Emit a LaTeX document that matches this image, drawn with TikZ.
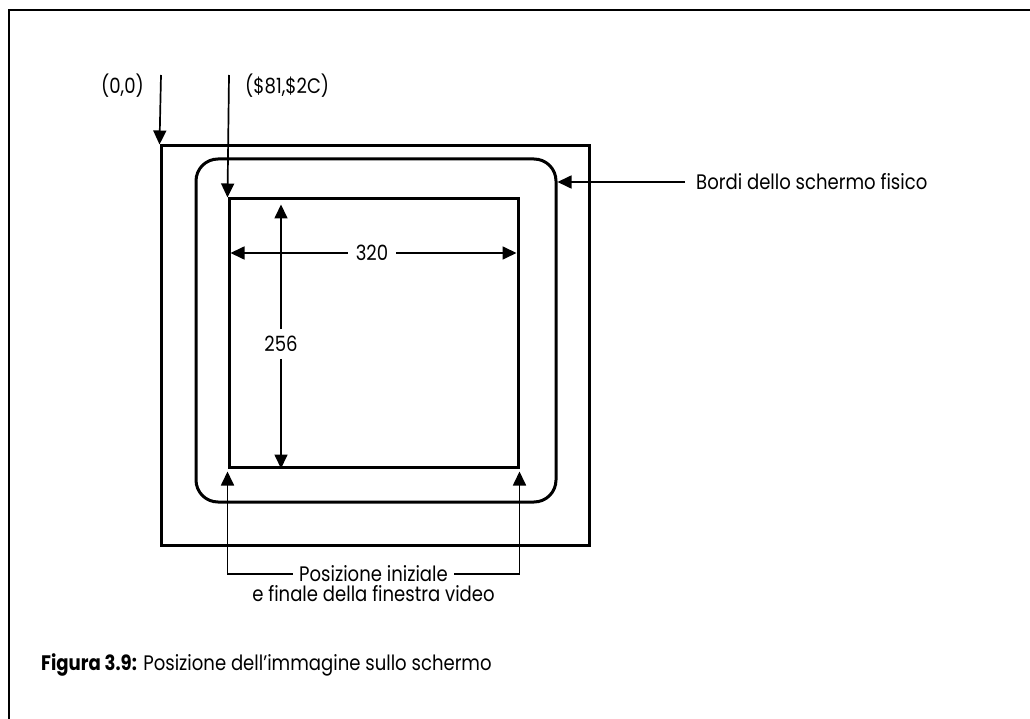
\documentclass[tikz,border=0pt]{standalone}
\usepackage{fontspec}
\setmainfont{Poppins}[FakeStretch=0.86]
\usetikzlibrary{arrows.meta,positioning}

\begin{document}
\begin{tikzpicture}[x=1pt,y=-1pt,>={Triangle[length=14pt,width=13pt]},
    font=\fontsize{21}{25}\selectfont,
    frame/.style={draw,line width=3pt,inner sep=0pt},
    arrow line/.style={->,line width=1.7pt},
    lbl/.style={inner sep=1pt}]
  \useasboundingbox (0,0) rectangle (1030,719);
  \draw[line width=2.4pt] (9,719) -- (9,10) -- (1030,10);

  % schermo, bordi e finestra video
  \node[frame,minimum width=428pt,minimum height=399pt] (schermo) at (375,345.5) {};
  \node[frame,rounded corners=22pt,minimum width=360pt,minimum height=343pt] (bordo) at (376,330.5) {};
  \node[frame,minimum width=289pt,minimum height=268pt] (finestra) at (373.5,333) {};

  \node[lbl,anchor=east] (orig) at (145,86) {(0,0)};
  \node[lbl,anchor=west] (start) at (244,86) {(\$81,\$2C)};
  \coordinate (orig top) at (161,75);
  \coordinate (start top) at (229,75);
  \node[lbl,anchor=west] (bordi) at (695,182) {Bordi dello schermo fisico};

  \node[lbl,inner sep=8pt] (largh) at (372,253) {320};
  \node[lbl,inner sep=7pt] (alt) at (281,344) {256};

  \node[lbl,inner xsep=6pt,inner ysep=0pt] (posiz) at (373.5,574) {Posizione iniziale};
  \node[lbl,inner ysep=0pt,below=3pt of posiz] (posiz2) {e finale della finestra video};

  \node[lbl,anchor=west] (didasc) at (40,665) {\textbf{Figura 3.9:} Posizione dell'immagine sullo schermo};

  \draw[arrow line] (orig top) -- (schermo.north west);
  \draw[arrow line] (start top) -- (finestra.north west);
  \draw[arrow line] ([xshift=-10pt]bordi.west) -- (bordo.east |- bordi.west);
  \draw[arrow line,shorten >=3pt] (largh.west) -- (finestra.west |- largh);
  \draw[arrow line,shorten >=3pt] (largh.east) -- (finestra.east |- largh);
  \draw[arrow line,shorten >=7pt] (alt.north) -- (alt |- finestra.north);
  \draw[arrow line] (alt.south) -- (alt |- finestra.south);
  \draw[arrow line] (posiz.west) -| ([yshift=-3pt]finestra.south west);
  \draw[arrow line] (posiz.east) -| ([yshift=-3pt]finestra.south east);
\end{tikzpicture}
\end{document}
